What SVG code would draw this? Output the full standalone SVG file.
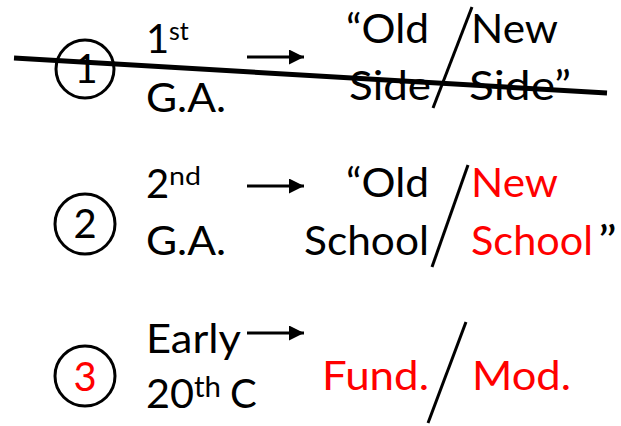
<svg xmlns="http://www.w3.org/2000/svg" width="621" height="426" viewBox="0 0 621 426">
<style>
  text { font-family: Lato, "Open Sans", "Liberation Sans", sans-serif; font-size: 40px; fill: #000; }
  .sup { font-size: 25px; }
  .red { fill: #FF0000; }
  .num { text-anchor: middle; }
  .ring { fill: none; stroke: #000; stroke-width: 3; }
  .slash { stroke: #000; stroke-width: 3; stroke-linecap: butt; }
  .arrow { stroke: #000; stroke-width: 3; fill: none; marker-end: url(#ah); }
</style>
<defs>
  <marker id="ah" viewBox="0 0 10 10" refX="10" refY="5" markerUnits="userSpaceOnUse" markerWidth="16" markerHeight="15" orient="auto">
    <path d="M0,0 L10,5 L0,10 Z" fill="#000"/>
  </marker>
</defs>
<rect width="621" height="426" fill="#fff"/>

<g id="row1">
  <circle class="ring" cx="85" cy="69" r="29"/>
  <text class="num" x="86" y="83">1</text>
  <text x="146" y="53">1</text><text class="sup" x="169" y="40">st</text>
  <text x="146" y="112" textLength="80" lengthAdjust="spacingAndGlyphs">G.A.</text>
  <text x="346" y="43" textLength="83" lengthAdjust="spacingAndGlyphs">“Old</text>
  <text x="471" y="43" textLength="87" lengthAdjust="spacingAndGlyphs">New</text>
  <text x="349" y="100" textLength="82" lengthAdjust="spacingAndGlyphs">Side</text>
  <text x="469" y="100" textLength="102" lengthAdjust="spacingAndGlyphs">Side”</text>
  <line class="slash" x1="472" y1="7" x2="433" y2="108"/>
</g>

<g id="row2">
  <circle class="ring" cx="85" cy="224" r="30"/>
  <text class="num" x="85" y="238">2</text>
  <text x="146" y="198">2</text><text class="sup" x="169" y="185" textLength="32" lengthAdjust="spacingAndGlyphs">nd</text>
  <text x="146" y="255" textLength="80" lengthAdjust="spacingAndGlyphs">G.A.</text>
  <text x="346" y="197" textLength="83" lengthAdjust="spacingAndGlyphs">“Old</text>
  <text class="red" x="471" y="197" textLength="87" lengthAdjust="spacingAndGlyphs">New</text>
  <text x="304" y="255" textLength="125" lengthAdjust="spacingAndGlyphs">School</text>
  <text class="red" x="471" y="255" textLength="122" lengthAdjust="spacingAndGlyphs">School</text><text x="598" y="255" textLength="19" lengthAdjust="spacingAndGlyphs">”</text>
  <line class="slash" x1="468" y1="165" x2="432" y2="267"/>
</g>

<g id="row3">
  <circle class="ring" cx="85" cy="376" r="30"/>
  <text class="num red" x="85" y="391">3</text>
  <text x="146" y="353" textLength="95" lengthAdjust="spacingAndGlyphs">Early</text>
  <text x="146" y="408" textLength="48" lengthAdjust="spacingAndGlyphs">20</text><text class="sup" x="194" y="397" style="font-size:28px" textLength="27" lengthAdjust="spacingAndGlyphs">th</text><text x="230" y="408">C</text>
  <text class="red" x="322" y="390" textLength="107" lengthAdjust="spacingAndGlyphs">Fund.</text>
  <text class="red" x="472" y="390" textLength="99" lengthAdjust="spacingAndGlyphs">Mod.</text>
  <line class="slash" x1="466" y1="322" x2="428" y2="423"/>
</g>

<g id="connectors">
  <line class="arrow" x1="247" y1="57" x2="304" y2="57"/>
  <line class="arrow" x1="247" y1="186" x2="304" y2="186"/>
  <line class="arrow" x1="247" y1="333" x2="304" y2="333"/>
</g>

<line id="strike" x1="14" y1="58" x2="607" y2="93" stroke="#000" stroke-width="5"/>
</svg>
